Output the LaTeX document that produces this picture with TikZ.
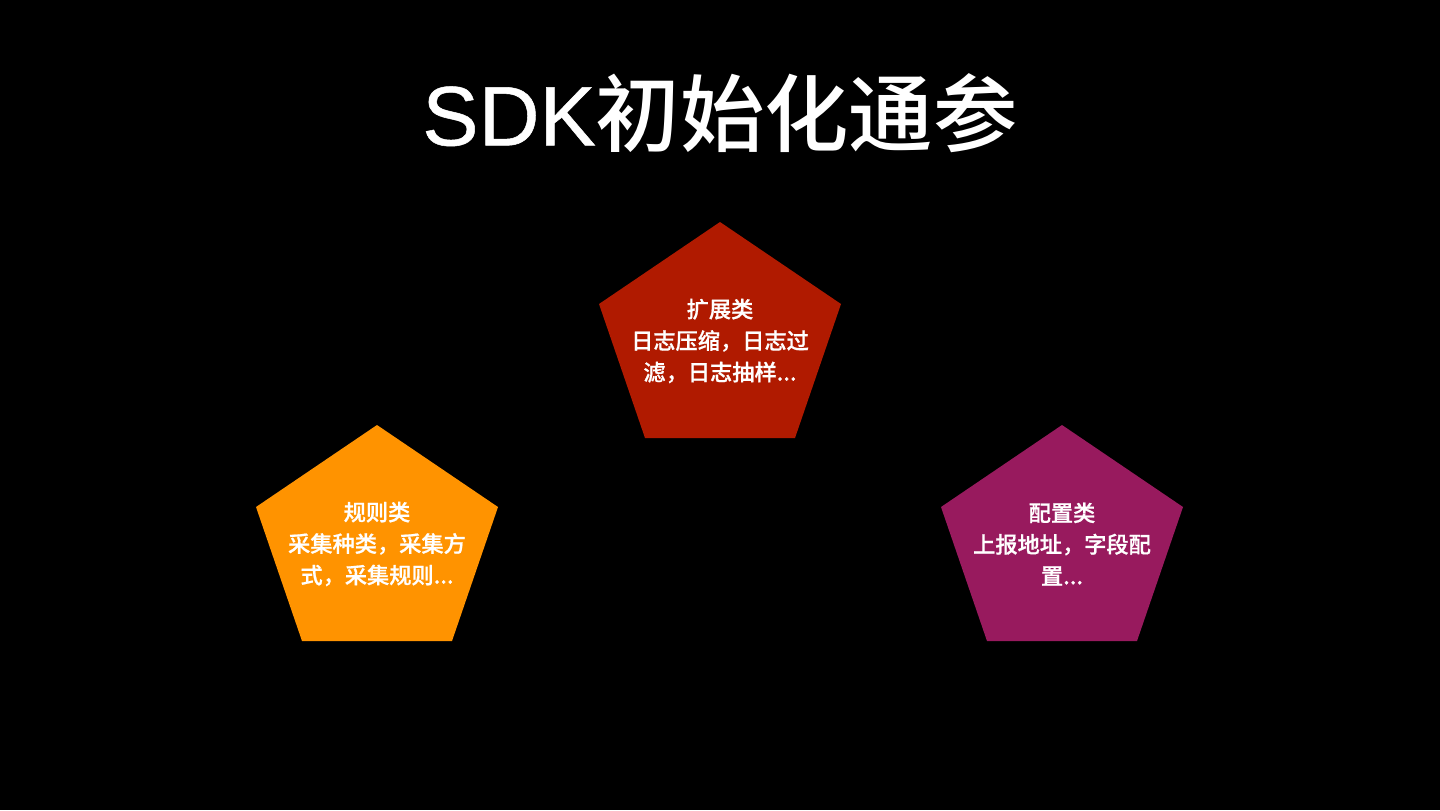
\documentclass[tikz,border=0pt]{standalone}
\usepackage{fontspec}
\setmainfont{Liberation Sans}
\newfontfamily\cjk{Noto Sans CJK SC Medium}
\newfontfamily\cjkbody{Noto Sans CJK SC Medium}[FakeBold=0.8]
\newfontfamily\latinhead{Liberation Sans}[FakeBold=0.6]
\definecolor{extred}{HTML}{B01A00}
\definecolor{ruleorange}{HTML}{FF9300}
\definecolor{cfgpurple}{HTML}{981A5E}

\begin{document}
\begin{tikzpicture}[
    x=0.025cm, y=-0.025cm,
    title/.style={text=white, inner sep=0pt, font=\fontsize{60}{66}\selectfont},
    lbl/.style={text=white, inner sep=0pt, align=center, font=\cjkbody\fontsize{15.8}{22.4}\selectfont},
]

% ============ background and title ============
\fill[black] (0,0) rectangle (1440,810);
\node[title] (head) at (720,113) {{\latinhead SDK}{\cjk 初始化通参}};

% ============ three pentagons ============
\foreach \nm/\tx/\ty/\c/\txt in {
    ext/720/222/extred/{扩展类\\日志压缩，日志过\\滤，日志抽样...},
    rule/377/425/ruleorange/{规则类\\采集种类，采集方\\式，采集规则...},
    cfg/1062/425/cfgpurple/{配置类\\上报地址，字段配\\置...}}
{
  \fill[\c] (\tx,\ty) -- ++(-121,82) -- ++(46,134) -- ++(150,0) -- ++(46,-134) -- cycle;
  \node[lbl] (\nm) at (\tx,\ty+119) {\txt};
}

\end{tikzpicture}
\end{document}
